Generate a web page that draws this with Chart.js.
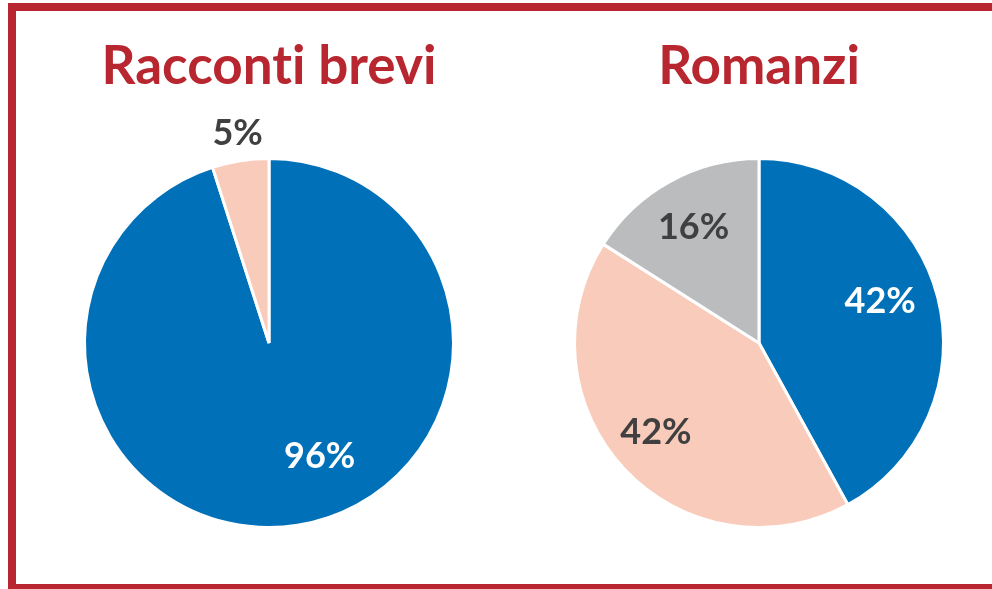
<!DOCTYPE html>
<html>
<head>
<meta charset="utf-8">
<script src="https://cdn.jsdelivr.net/npm/chart.js@4.4.1/dist/chart.umd.min.js"></script>
<style>
  html, body { margin: 0; padding: 0; background: #fff; }
  body { width: 992px; height: 589px; position: relative; overflow: hidden; font-family: Lato, sans-serif; }
  .frame { position: absolute; left: 8px; top: 3px; width: 1000px; height: 573px; border: 8px solid #B8262F; }
  .title { position: absolute; top: 28px; width: 460px; text-align: center; color: #B8262F; font-weight: bold; font-size: 53px; line-height: 72px; font-variant-ligatures: none; font-feature-settings: "liga" 0; }
  .box { position: absolute; top: 113px; width: 460px; height: 460px; }
</style>
</head>
<body>
<div class="frame"></div>
<div class="title" style="left:39px">Racconti brevi</div>
<div class="title" style="left:529px">Romanzi</div>
<div class="box" style="left:39px"><canvas id="pieBrevi"></canvas></div>
<div class="box" style="left:529px"><canvas id="pieRomanzi"></canvas></div>
<script>
// valori
const categorieBrevi = ['Sì', 'No'];
const valoriBrevi = [96, 5];
const categorieRomanzi = ['Sì', 'No', 'Non so'];
const valoriRomanzi = [42, 42, 16];

const colori = ['#0070B8', '#F9CBBA', '#BBBCBE'];
const coloriTesto = ['#FFFFFF', '#404040', '#404040'];

// etichette percentuali disegnate sopra le fette
const etichette = {
    id: 'etichette',
    afterDatasetsDraw(chart, args, opts) {
        const ctx = chart.ctx;
        const meta = chart.getDatasetMeta(0);
        const valori = chart.data.datasets[0].data;
        ctx.save();
        ctx.font = 'bold 36px Lato';
        ctx.textAlign = 'center';
        ctx.textBaseline = 'middle';
        meta.data.forEach(function (arc, i) {
            const p = arc.getProps(['x', 'y', 'startAngle', 'endAngle', 'outerRadius']);
            let ang = (p.startAngle + p.endAngle) / 2;
            if (opts.angoli && opts.angoli[i] != null) ang = -Math.PI / 2 + opts.angoli[i] * Math.PI / 180;
            const r = p.outerRadius * opts.raggi[i];
            ctx.fillStyle = opts.raggi[i] > 1 ? '#404040' : coloriTesto[i];
            ctx.fillText(valori[i] + '%', p.x + Math.cos(ang) * r, p.y + Math.sin(ang) * r);
        });
        ctx.restore();
    }
};

function creaTorta(id, categorie, valori, raggi, angoli) {
    return new Chart(document.getElementById(id), {
        type: 'pie',
        data: {
            labels: categorie,
            datasets: [{
                data: valori,
                backgroundColor: colori.slice(0, valori.length),
                borderColor: '#FFFFFF',
                borderWidth: 3
            }]
        },
        options: {
            responsive: true,
            maintainAspectRatio: false,
            animation: false,
            layout: { padding: 44 },
            plugins: {
                legend: { display: false },
                tooltip: { enabled: false },
                etichette: { raggi: raggi, angoli: angoli }
            }
        },
        plugins: [etichette]
    });
}

creaTorta('pieBrevi', categorieBrevi, valoriBrevi, [0.675, 1.15], [156, 351.5]);
creaTorta('pieRomanzi', categorieRomanzi, valoriRomanzi, [0.695, 0.74, 0.72], [71, 229, 330.5]);
</script>
</body>
</html>
